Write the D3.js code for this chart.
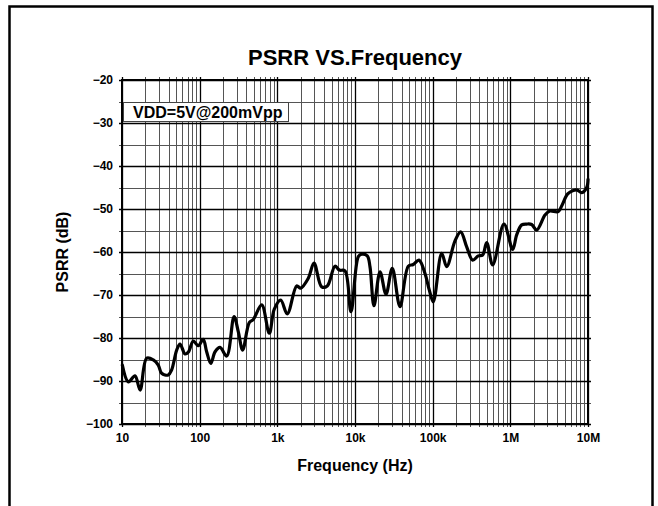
<!DOCTYPE html>
<html><head><meta charset="utf-8">
<script src="https://d3js.org/d3.v7.min.js"></script>
<style>
body{margin:0;background:#fff}
svg{display:block}
text{font-family:"Liberation Sans",Arial,Helvetica,sans-serif;font-weight:bold;fill:#000}
</style>
</head><body>
<svg id="c" width="658" height="506"></svg>
<script>
// ---- data ----
const freq = [10.1,12.1,14.7,17.1,20.8,25.3,29.3,32.4,39.4,43.6,50.6,55.8,64.8,71.4,82.8,96,111,123,139,158,183,223,277,314,358,435,490,629,788,914,1105,1343,1774,1999,2505,2967,3725,4399,5524,6281,7430,8875,11020,12190,14390,15590,17550,20990,25070,30210,37940,48530,56260,66620,79630,90390,101800,130600,151600,193800,229500,274300,327500,386600,440500,496300,593000,828000,1072000,1207000,1400000,1623000,1883000,2184000,2793000,3175000,4143000,4580000,5475000,6468000,7280000,8297000,9620000,10000000];
const psrr = [-86.3,-90.2,-88.8,-92.1,-84.7,-85.1,-86.3,-88.2,-88.6,-87.4,-82.8,-81.4,-83.7,-83.3,-80.7,-81.8,-80.3,-83.2,-85.9,-83.2,-82.2,-84.2,-75.0,-78.5,-82.8,-76.4,-75.7,-72.3,-78.9,-73.3,-71.2,-74.4,-67.9,-68.4,-66.1,-62.6,-68.1,-67.9,-63.3,-64.2,-64.4,-73.9,-61.1,-60.5,-60.9,-63.4,-72.5,-64.6,-69.8,-63.8,-72.7,-63.3,-62.9,-61.9,-65.0,-68.8,-71.6,-60.3,-63.4,-57.4,-55.3,-58.8,-61.9,-60.9,-60.7,-57.8,-63.0,-53.5,-59.4,-56.0,-53.7,-53.5,-53.6,-54.9,-51.4,-50.5,-50.6,-49.3,-46.5,-45.7,-45.6,-46.2,-45.0,-43.1];
const xTickValues = [10,100,1000,10000,100000,1000000,10000000];
const xTickLabels = ["10","100","1k","10k","100k","1M","10M"];
const yTickValues = [-100,-90,-80,-70,-60,-50,-40,-30,-20];
const yMinorValues = [-95,-85,-75,-65,-55,-45,-35,-25];
const titleText = "PSRR VS.Frequency";
const xTitle = "Frequency (Hz)";
const yTitle = "PSRR (dB)";
const legendText = "VDD=5V@200mVpp";

// ---- layout ----
const L = 122, R = 588, T = 80, B = 424;
const svg = d3.select("#c");
const x = d3.scaleLog().domain([10, 1e7]).range([L, R]);
const y = d3.scaleLinear().domain([-100, -20]).range([B, T]);

// outer frame
svg.append("rect").attr("x", 9.5).attr("y", 6.5).attr("width", 643).attr("height", 520)
  .attr("fill", "none").attr("stroke", "#000").attr("stroke-width", 2.5);

// minor x values
const xMinor = [];
xTickValues.slice(0, -1).forEach(d => { for (let k = 2; k <= 9; k++) xMinor.push(d * k); });

const g = svg.append("g");
// minor grid
g.selectAll(".vx").data(xMinor).join("line")
  .attr("x1", d => Math.round(x(d)) + 0.5).attr("x2", d => Math.round(x(d)) + 0.5)
  .attr("y1", T - 3).attr("y2", B + 3).attr("stroke", "#555").attr("stroke-width", 1);
g.selectAll(".hy").data(yMinorValues).join("line")
  .attr("y1", d => Math.round(y(d)) + 0.5).attr("y2", d => Math.round(y(d)) + 0.5)
  .attr("x1", L - 3).attr("x2", R + 3).attr("stroke", "#555").attr("stroke-width", 1);
// major grid
g.selectAll(".vX").data(xTickValues).join("line")
  .attr("x1", d => Math.round(x(d)) + 0.5).attr("x2", d => Math.round(x(d)) + 0.5)
  .attr("y1", T - 3).attr("y2", B + 3).attr("stroke", "#000").attr("stroke-width", 1.3);
g.selectAll(".hY").data(yTickValues).join("line")
  .attr("y1", d => Math.round(y(d)) + 0.5).attr("y2", d => Math.round(y(d)) + 0.5)
  .attr("x1", L - 3).attr("x2", R + 3).attr("stroke", "#000").attr("stroke-width", 1.3);

// axes (labels)
const xAxis = d3.axisBottom(x).tickValues(xTickValues)
  .tickFormat((d, i) => xTickLabels[i]).tickSize(3).tickPadding(6);
const xa = svg.append("g").attr("transform", `translate(0,${B})`).call(xAxis);
xa.select(".domain").remove();
xa.selectAll("text").style("font-size", "12px").attr("fill", "#000");
xa.selectAll("line").remove();

const yAxis = d3.axisLeft(y).tickValues(yTickValues).tickSize(3).tickPadding(6);
const ya = svg.append("g").attr("transform", `translate(${L},0)`).call(yAxis);
ya.select(".domain").remove();
ya.selectAll("text").style("font-size", "12px").attr("fill", "#000");
ya.selectAll("line").remove();

// plot frame
svg.append("rect").attr("x", L).attr("y", T).attr("width", R - L).attr("height", B - T)
  .attr("fill", "none").attr("stroke", "#000").attr("stroke-width", 2);

// legend box
svg.append("rect").attr("x", 123.5).attr("y", 102.5).attr("width", 165).attr("height", 19)
  .attr("fill", "#fff").attr("stroke", "#444").attr("stroke-width", 1);
svg.append("text").attr("x", 133).attr("y", 118).style("font-size", "16px").text(legendText);

// data line
const data = freq.map((f, i) => ({ f, v: psrr[i] }));
const line = d3.line().x(d => x(d.f)).y(d => y(d.v)).curve(d3.curveCatmullRom.alpha(0.5));
svg.append("path").datum(data).attr("d", line)
  .attr("fill", "none").attr("stroke", "#000").attr("stroke-width", 3.2)
  .attr("stroke-linejoin", "round").attr("stroke-linecap", "round");

// titles
svg.append("text").attr("x", 355).attr("y", 65).attr("text-anchor", "middle")
  .style("font-size", "22px").text(titleText);
svg.append("text").attr("x", 355).attr("y", 471).attr("text-anchor", "middle")
  .style("font-size", "16px").text(xTitle);
svg.append("text").attr("transform", "translate(68,252) rotate(-90)").attr("text-anchor", "middle")
  .style("font-size", "16px").text(yTitle);
</script>
</body></html>
